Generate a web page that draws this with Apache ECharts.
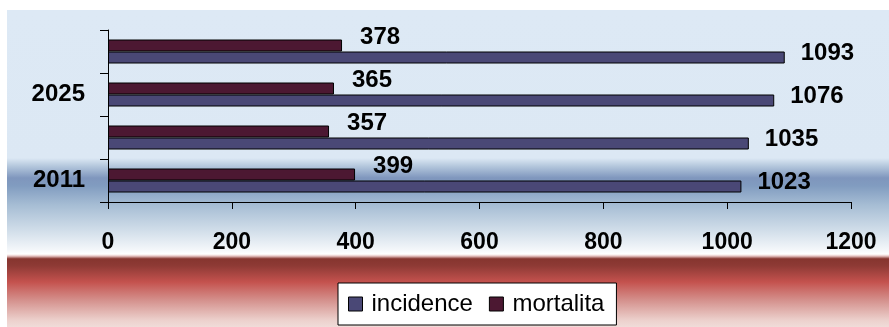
<!DOCTYPE html>
<html>
<head>
<meta charset="utf-8">
<script src="https://cdn.jsdelivr.net/npm/echarts@6/dist/echarts.min.js"></script>
<style>
  html, body { margin: 0; padding: 0; background: #ffffff; }
  #chart { width: 889px; height: 327px; }
</style>
</head>
<body>
<div id="chart"></div>
<script>
// Years on the category axis (bottom to top); every other one is labelled
const years = ['2011', '2020', '2025', '2030'];
// Values per year
const incidence = [1023, 1035, 1076, 1093];
const mortalita = [399, 357, 365, 378];
// Value-axis range
const xMin = 0;
const xMax = 1200;
const xStep = 200;

const FONT = "'Liberation Sans', Arial, sans-serif";
const chart = echarts.init(document.getElementById('chart'), null, { renderer: 'canvas' });

const labelCommon = {
  show: true,
  position: 'right',
  color: '#000',
  fontFamily: FONT,
  fontWeight: 'bold',
  fontSize: 24
};

chart.setOption({
  animation: false,
  backgroundColor: '#ffffff',
  graphic: [{
    type: 'rect',
    z: -10,
    silent: true,
    shape: { x: 7, y: 10, width: 882, height: 317 },
    style: {
      fill: new echarts.graphic.LinearGradient(0, 0, 0, 1, [
        { offset: 0.000, color: '#dde9f5' },
        { offset: 0.467, color: '#dce8f4' },
        { offset: 0.492, color: '#b5c8dd' },
        { offset: 0.530, color: '#7f96bd' },
        { offset: 0.555, color: '#819cc0' },
        { offset: 0.615, color: '#a6bdd4' },
        { offset: 0.694, color: '#d0dde9' },
        { offset: 0.757, color: '#f4f7fa' },
        { offset: 0.770, color: '#ffffff' },
        { offset: 0.776, color: '#e8c8c6' },
        { offset: 0.785, color: '#86352f' },
        { offset: 0.807, color: '#8e3a35' },
        { offset: 0.858, color: '#c4524e' },
        { offset: 0.915, color: '#d4908c' },
        { offset: 0.978, color: '#ecd0cc' },
        { offset: 1.000, color: '#f0dcd9' }
      ])
    }
  }],
  grid: { left: 108, right: 38, top: 30, bottom: 125, containLabel: false },
  legend: {
    data: ['incidence', 'mortalita'],
    left: 338,
    top: 283,
    width: 279,
    padding: [9, 12, 9, 10],
    itemWidth: 14,
    itemHeight: 14,
    itemGap: 16,
    icon: 'rect',
    backgroundColor: '#ffffff',
    borderColor: '#000000',
    borderWidth: 1,
    borderRadius: 0,
    itemStyle: { borderColor: '#000', borderWidth: 1 },
    textStyle: {
      color: '#000',
      fontFamily: FONT,
      fontSize: 24,
      padding: [0, 0, 0, 4]
    }
  },
  xAxis: {
    type: 'value',
    min: xMin,
    max: xMax,
    interval: xStep,
    splitLine: { show: false },
    axisLine: { show: true, lineStyle: { color: '#000', width: 1 } },
    axisTick: { show: true, length: 7, inside: false, lineStyle: { color: '#000', width: 1 } },
    axisLabel: {
      margin: 29,
      color: '#000',
      fontFamily: FONT,
      fontWeight: 'bold',
      fontSize: 23,
      formatter: function (v) { return String(v); }
    }
  },
  yAxis: {
    type: 'category',
    data: years,
    boundaryGap: true,
    axisLine: { show: true, lineStyle: { color: '#000', width: 1 } },
    axisTick: { show: true, interval: 0, length: 8, lineStyle: { color: '#000', width: 1 } },
    axisLabel: {
      interval: 1,
      margin: 23,
      color: '#000',
      fontFamily: FONT,
      fontWeight: 'bold',
      fontSize: 24
    }
  },
  series: [
    {
      name: 'mortalita',
      type: 'bar',
      data: mortalita,
      barWidth: 12,
      barGap: '0%',
      itemStyle: { color: '#4c1832', borderColor: '#000', borderWidth: 1 },
      label: Object.assign({}, labelCommon, { distance: 18, offset: [0, -8] })
    },
    {
      name: 'incidence',
      type: 'bar',
      data: incidence,
      barWidth: 12,
      barGap: '0%',
      itemStyle: { color: '#4a4876', borderColor: '#000', borderWidth: 1 },
      label: Object.assign({}, labelCommon, { distance: 16, offset: [0, -4] })
    }
  ]
});
</script>
</body>
</html>
